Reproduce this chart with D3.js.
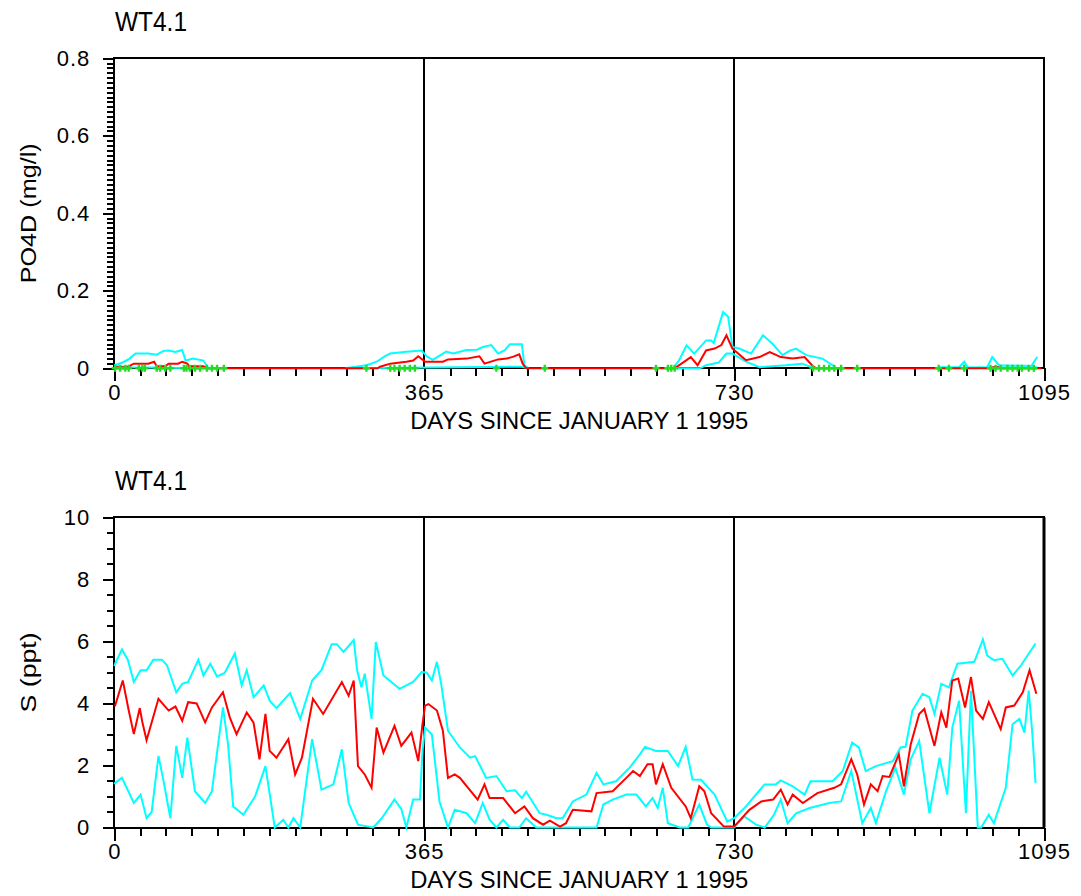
<!DOCTYPE html>
<html>
<head>
<meta charset="utf-8">
<title>WT4.1</title>
<style>
  body { margin: 0; background: #fff; }
  svg text { font-family: "Liberation Sans", Arial, sans-serif; fill: #000; }
  .tick line { stroke: #000; stroke-width: 2px; shape-rendering: crispEdges; }
  .frame { fill: none; stroke: #000; stroke-width: 2px; shape-rendering: crispEdges; }
  .yearline { stroke: #000; stroke-width: 1.5px; shape-rendering: crispEdges; }
  .series { fill: none; stroke-width: 2px; stroke-linejoin: miter; }
</style>
</head>
<body>
<svg width="1081" height="896"></svg>
<script src="https://cdn.jsdelivr.net/npm/d3@7"></script>
<script>

// ---- PO4D panel (mg/l), [day, value]; null breaks a line ----
var pMean = [[0,0.003],[15,0.003],[23,0.012],[40,0.012],[47,0.017],[50,0.005],[60,0.005],[64,0.012],[75,0.012],[80,0.017],[86,0.012],[88,0.005],[105,0.005],[110,0],
  [310,0],[313,0.004],[325,0.012],[344,0.017],[352,0.02],[358,0.031],[366,0.017],[387,0.017],[393,0.023],[415,0.025],[430,0.031],[436,0.012],[452,0.023],[462,0.025],[470,0.03],[477,0.036],[481,0.012],[485,0],
  [660,0],[674,0.021],[679,0.029],[687,0.008],[697,0.046],[707,0.051],[715,0.06],[721,0.085],[728,0.051],[744,0.021],[760,0.029],[772,0.042],[785,0.029],[799,0.025],[813,0.029],[823,0.005],[827,0],
  [1030,0],[1038,0.004],[1046,0],[1092,0]];

var pMax = [[0,0.008],[10,0.015],[18,0.025],[25,0.038],[40,0.038],[50,0.035],[58,0.045],[64,0.046],[72,0.042],[80,0.047],[84,0.02],[93,0.025],[105,0.02],[111,0],
  null,
  [272,0],[297,0.008],[309,0.017],[318,0.03],[325,0.038],[344,0.043],[362,0.046],[368,0.031],[375,0.022],[391,0.043],[399,0.038],[415,0.047],[427,0.048],[434,0.055],[444,0.06],[452,0.038],[460,0.047],[466,0.062],[480,0.062],[483,0.008],[488,0],
  null,
  [658,0],[665,0.02],[674,0.059],[683,0.038],[697,0.072],[703,0.072],[706,0.065],[717,0.145],[723,0.133],[728,0.055],[736,0.051],[750,0.038],[764,0.085],[775,0.064],[787,0.034],[795,0.045],[803,0.051],[815,0.034],[834,0.025],[846,0.008],[850,0],
  null,
  [971,0.003],[995,0.003],[1001,0.017],[1005,0.002],[1028,0.003],[1034,0.029],[1042,0.008],[1080,0.006],[1087,0.029]];

var pMin = [[0,0.006],[20,0.003],[111,0],
  null,
  [272,0],[480,0.004],[488,0],
  null,
  [658,0],[690,0],[697,0.008],[712,0.015],[721,0.038],[728,0.038],[744,0.017],[760,0.003],[791,0.008],[810,0.012],[825,0],
  null,
  [971,0],[1087,0.003]];

var pObs = [[1,0],[7,0],[13,0],[17,0],[29,0],[33,0],[36,0],[50,0],[54,0],[60,0],[66,0],[82,0],[85,0],[89,0],[95,0],[101,0],[109,0],[115,0],[121,0],[129,0],
  [297,0],[325,0],[330,0],[336,0],[342,0],[348,0],[354,0],[450,0],[507,0],
  [638,0],[652,0],[656,0],[660,0],[823,0],[830,0],[836,0],[842,0],[848,0],[856,0],[875,0],
  [971,0],[983,0],[1001,0],[1032,0],[1038,0],[1044,0],[1052,0],[1058,0],[1064,0],[1069,0],[1077,0],[1083,0]];

// ---- S panel (ppt) ----
var sMax = [[0,5.2],[1,5.28],[9,5.74],[16,5.4],[23,4.69],[31,5.07],[38,5.07],[46,5.41],[56,5.41],[62,5.23],[73,4.36],[80,4.63],[87,4.69],[99,5.41],[105,4.9],[113,5.28],[121,4.87],[130,4.98],[142,5.61],[150,4.58],[156,5.07],[164,4.2],[176,4.58],[183,4.09],[191,3.85],[207,4.33],[219,3.5],[233,4.74],[244,5.07],[256,5.91],[262,5.91],[270,5.66],[282,6.04],[286,5.07],[291,4.52],[295,4.96],[303,3.5],[308,5.98],[317,4.9],[336,4.47],[352,4.69],[362,5.01],[368,5.0],[374,4.74],[380,5.34],[385,4.63],[393,3.12],[407,2.58],[419,2.25],[425,2.3],[438,1.6],[450,1.66],[462,1.17],[472,1.2],[480,0.95],[485,1.15],[501,0.46],[509,0.41],[521,0.3],[528,0.3],[540,0.84],[556,1.06],[568,1.76],[576,1.39],[591,1.49],[607,1.93],[619,2.36],[625,2.6],[638,2.47],[652,2.47],[664,1.98],[673,2.6],[681,1.55],[691,1.54],[707,1.06],[722,0.19],[730,0.3],[744,0.68],[766,1.39],[779,1.39],[785,1.52],[799,1.33],[813,1.06],[820,1.49],[846,1.49],[858,1.82],[869,2.74],[877,2.58],[885,1.82],[897,1.98],[917,2.14],[926,2.58],[932,2.6],[940,3.77],[952,4.31],[960,4.2],[966,3.66],[974,4.63],[983,4.52],[993,5.28],[1013,5.34],[1023,6.06],[1028,5.55],[1036,5.39],[1046,5.44],[1058,4.9],[1068,5.23],[1085,5.93]];

var sMean = [[0,3.93],[1,3.93],[10,4.74],[17,3.77],[23,3.01],[30,3.85],[33,3.4],[38,2.81],[52,4.15],[64,3.77],[72,3.9],[80,3.44],[87,4.04],[97,4.0],[107,3.39],[115,3.87],[128,4.36],[136,3.55],[144,3.01],[156,3.71],[164,3.38],[171,2.2],[178,3.66],[183,2.47],[191,2.25],[205,2.85],[213,1.71],[221,2.25],[234,4.15],[246,3.66],[268,4.69],[276,4.25],[282,4.74],[287,1.98],[295,1.71],[303,1.28],[309,3.22],[317,2.41],[330,3.28],[338,2.63],[350,3.06],[358,2.14],[363,3.33],[366,3.93],[370,3.98],[380,3.77],[387,3.12],[393,1.6],[401,1.71],[407,1.6],[428,0.9],[436,1.39],[442,0.95],[458,0.95],[472,0.46],[483,0.68],[493,0.3],[505,0.09],[513,0.22],[525,0.03],[532,0.14],[540,0.57],[562,0.52],[568,1.11],[587,1.17],[603,1.6],[611,1.82],[619,1.66],[628,2.04],[634,2.04],[638,1.39],[646,2.04],[656,1.28],[673,0.68],[679,0.3],[689,1.33],[695,1.17],[703,0.46],[718,0.03],[730,0.03],[748,0.57],[762,0.84],[776,0.9],[785,1.22],[793,0.74],[799,1.06],[811,0.79],[828,1.11],[848,1.28],[856,1.39],[868,2.2],[875,1.71],[883,0.74],[891,1.39],[899,1.17],[905,1.66],[913,1.63],[924,2.36],[930,1.33],[938,2.68],[948,3.66],[954,3.82],[966,2.63],[974,3.71],[980,3.22],[987,4.74],[994,4.8],[1002,3.87],[1009,4.85],[1015,3.77],[1023,3.5],[1030,4.04],[1044,3.17],[1050,3.87],[1060,3.93],[1070,4.36],[1078,5.07],[1086,4.31]];

var sMin = [[0,1.4],[1,1.44],[9,1.6],[23,0.79],[31,1.06],[38,0.3],[44,0.5],[52,2.31],[58,1.5],[66,0.3],[73,2.63],[80,1.6],[86,2.9],[95,1.17],[107,0.79],[115,1.17],[128,3.87],[134,2.68],[140,0.68],[152,0.41],[166,1.01],[178,1.98],[189,0],[199,0.25],[205,0],[211,0.3],[219,0],[233,2.85],[244,1.22],[258,1.39],[268,2.52],[276,0.79],[287,0.09],[305,0],[315,0.3],[330,0.9],[338,0.6],[344,0],[352,0.9],[360,0.9],[363,2.47],[366,3.22],[374,3.0],[383,0.84],[393,0],[401,0.57],[415,0.46],[425,0.14],[434,0.79],[442,0.25],[450,0],[458,0.25],[466,0],[477,0],[485,0.3],[497,0],[568,0],[576,0.74],[587,0.9],[603,1.06],[615,1.06],[626,0.68],[634,0.95],[640,0.63],[646,1.28],[652,0.14],[666,0],[676,0],[689,0.74],[698,0.09],[703,0],[730,0],[742,0.36],[756,0.09],[766,0],[777,0.41],[785,0.9],[793,0.14],[803,0.46],[819,0.63],[842,0.79],[856,0.84],[868,1.82],[881,0.14],[891,0.63],[897,0.14],[909,1.17],[920,1.93],[930,1.06],[938,2.2],[948,2.79],[960,0.46],[972,2.25],[981,1.06],[987,3.22],[995,4.09],[1003,0.46],[1009,4.41],[1017,0],[1021,0],[1030,0.41],[1036,0.14],[1050,1.28],[1058,3.33],[1066,3.5],[1072,3.06],[1077,4.41],[1081,3.12],[1085,1.44]];

// ticks and labels
var xMajor = [0, 365, 730, 1095];
var yearLines = [365, 730];
var pMajor = [0, 0.2, 0.4, 0.6, 0.8];
var sMajor = [0, 2, 4, 6, 8, 10];
var stationName = "WT4.1";
var xTitle = "DAYS SINCE JANUARY 1 1995";

var svg = d3.select("svg");
var x = d3.scaleLinear().domain([0, 1095]).range([114.3, 1044]);
var xMinor = d3.range(0, 37).map(function(i){ return i * 365 / 12; });

function drawPanel(o) {
  var y = d3.scaleLinear().domain([0, o.yMax]).range([o.bottom, o.top]);
  var g = svg.append("g");

  // title
  g.append("text").attr("x", 115).attr("y", o.top - 27.5)
    .attr("font-size", 27).attr("textLength", 72).attr("lengthAdjust", "spacingAndGlyphs")
    .text(stationName);

  // y axis ticks
  var yMinorAxis = d3.axisLeft(y).tickValues(o.minor).tickSize(7).tickFormat("");
  var yMajorAxis = d3.axisLeft(y).tickValues(o.major).tickSize(11).tickPadding(13).tickFormat(o.fmt);
  g.append("g").attr("transform", "translate(" + x(0) + ",0)").call(yMinorAxis);
  var ya = g.append("g").attr("transform", "translate(" + x(0) + ",0)").call(yMajorAxis);
  ya.selectAll("text").attr("font-size", 22).attr("letter-spacing", 1).attr("font-family", null);

  // x axis ticks
  var xMinorAxis = d3.axisBottom(x).tickValues(xMinor).tickSize(8).tickFormat("");
  var xMajorAxis = d3.axisBottom(x).tickValues(xMajor).tickSize(13).tickPadding(3).tickFormat(d3.format("d"));
  g.append("g").attr("transform", "translate(0," + o.bottom + ")").call(xMinorAxis);
  var xa = g.append("g").attr("transform", "translate(0," + o.bottom + ")").call(xMajorAxis);
  xa.selectAll("text").attr("font-size", 22).attr("letter-spacing", 1).attr("font-family", null);
  g.selectAll(".domain").remove();

  // frame and year separators
  g.append("rect").attr("class", "frame")
    .attr("x", x(0)).attr("y", o.top)
    .attr("width", x(1095) - x(0)).attr("height", o.bottom - o.top);
  g.selectAll(".yearline").data(yearLines).enter().append("line")
    .attr("class", "yearline")
    .attr("x1", function(d){ return x(d); }).attr("x2", function(d){ return x(d); })
    .attr("y1", o.top).attr("y2", o.bottom);

  // axis titles
  g.append("text").attr("x", (x(0) + x(1095)) / 2).attr("y", o.bottom + 60.5)
    .attr("text-anchor", "middle").attr("font-size", 24)
    .attr("textLength", 338).attr("lengthAdjust", "spacingAndGlyphs")
    .text(xTitle);
  g.append("text")
    .attr("transform", "translate(36," + ((o.top + o.bottom) / 2) + ") rotate(-90)")
    .attr("text-anchor", "middle").attr("font-size", 22)
    .attr("textLength", o.labelLen).attr("lengthAdjust", "spacingAndGlyphs")
    .text(o.label);

  // series
  var line = d3.line()
    .defined(function(d){ return d != null; })
    .x(function(d){ return x(d[0]); })
    .y(function(d){ return y(d[1]); });
  o.series.forEach(function(s) {
    g.append("path").attr("class", "series")
      .attr("stroke", s.color).attr("d", line(s.data));
  });

  if (o.obs) {
    g.selectAll(".obs").data(o.obs).enter().append("path")
      .attr("class", "obs")
      .attr("d", d3.symbol().type(d3.symbolCross).size(28))
      .attr("fill", "#22dd22")
      .attr("transform", function(d){ return "translate(" + x(d[0]) + "," + y(d[1]) + ")"; });
  }
  return g;
}

drawPanel({
  top: 58.3, bottom: 368.3, yMax: 0.8,
  minor: d3.range(0, 65).map(function(i){ return i * 0.0125; }),
  major: pMajor, fmt: function(d){ return d === 0 ? "0" : d3.format(".1f")(d); },
  label: "PO4D (mg/l)", labelLen: 140,
  series: [{data: pMax, color: "#00ffff"}, {data: pMin, color: "#00ffff"}, {data: pMean, color: "#ff0000"}],
  obs: pObs
});

var bottomPanel = drawPanel({
  top: 517.3, bottom: 827.5, yMax: 10,
  minor: d3.range(0, 21).map(function(i){ return i * 0.5; }),
  major: sMajor, fmt: d3.format("d"),
  label: "S (ppt)", labelLen: 80,
  series: [{data: sMax, color: "#00ffff"}, {data: sMin, color: "#00ffff"}, {data: sMean, color: "#ff0000"}]
});
// heavier right edge on the lower frame
bottomPanel.append("line").attr("x1", x(1095)).attr("x2", x(1095))
  .attr("y1", 517.3).attr("y2", 827.5).attr("stroke", "#000").attr("stroke-width", 3);

</script>
</body>
</html>
